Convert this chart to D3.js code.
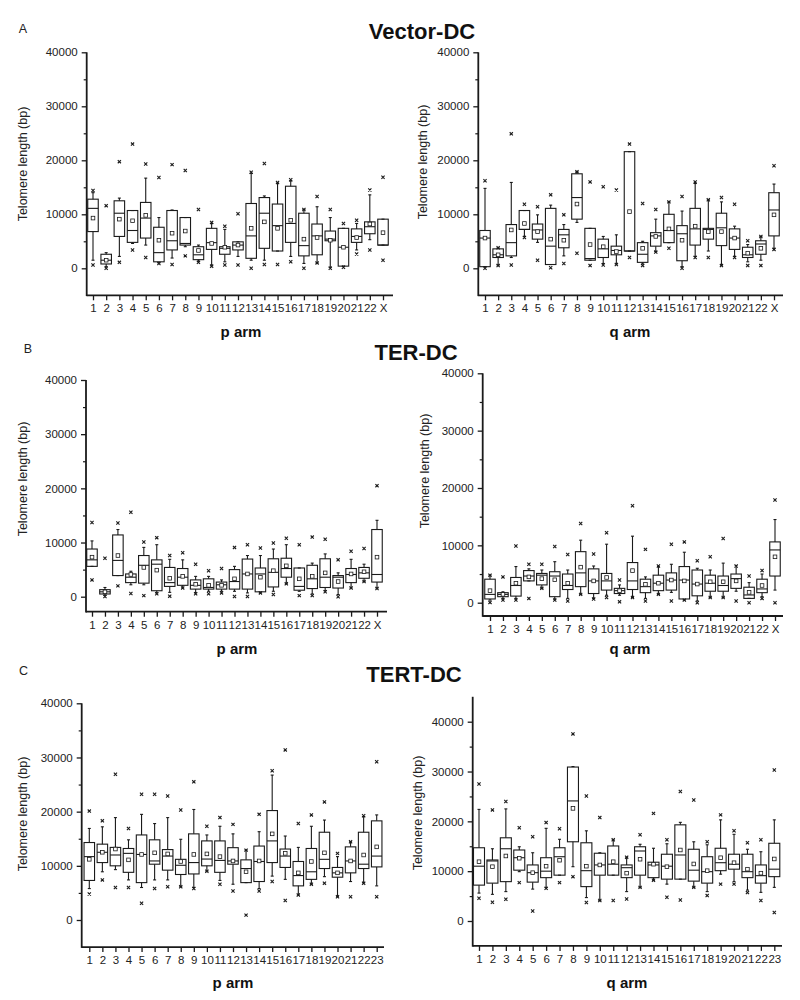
<!DOCTYPE html>
<html><head><meta charset="utf-8">
<script src="https://cdn.jsdelivr.net/npm/d3@7"></script>
<style>
html,body{margin:0;padding:0;background:#fff;}
svg{display:block;font-family:"Liberation Sans",Arial,sans-serif;}
</style></head><body>
<svg id="chart" width="800" height="1000"></svg>
<script>
// categories
const catsXY = ["1","2","3","4","5","6","7","8","9","10","11","12","13","14","15","16","17","18","19","20","21","22","X"];
const cats23 = ["1","2","3","4","5","6","7","8","9","10","11","12","13","14","15","16","17","18","19","20","21","22","23"];
const yMajorTicks = [0, 10000, 20000, 30000, 40000];
const yMinorTicks = [5000, 15000, 25000, 35000];

// rows: [x-low, whisker low, Q1, median, Q3, whisker high, x-high, mean]  (bp)
const vectorP = [
 [600,1500,6800,11100,12800,14000,14400,9300],
 [0,300,800,1500,2600,2900,11600,1500],
 [1100,2200,5900,10200,12500,13000,19750,9100],
 [3400,4600,4800,7000,10700,10700,23000,8800],
 [2000,4300,5600,9300,12200,16700,19300,9800],
 [900,1000,1200,2900,7600,9400,16800,5200],
 [700,1900,3400,5100,10700,10800,19200,6500],
 [2300,4000,4300,4600,9400,9400,18100,6900],
 [1100,1300,1600,2500,4000,4300,10900,3300],
 [400,600,3500,4750,7400,8300,8500,4600],
 [600,1200,2600,3700,4000,7200,7800,3900],
 [600,2200,3400,4300,4900,4900,10100,4300],
 [0,1500,1850,6000,12000,17600,17800,7400],
 [700,1500,3700,10200,13100,13400,19400,8600],
 [700,3200,3200,7900,11900,15800,15900,7400],
 [1200,2200,4800,8300,15200,16200,16400,8900],
 [0,900,2300,4200,10200,10900,10900,5400],
 [1000,1000,2500,6000,8200,11400,13300,5700],
 [0,200,5100,5400,6900,9400,10900,5200],
 [200,400,400,3900,7400,7400,8300,3900],
 [2650,3400,4800,5900,7300,8300,8900,5700],
 [3400,5300,6400,7700,8600,13600,14500,8200],
 [1500,4300,4300,4300,9100,9100,16850,6600]
];
const vectorQ = [
 [0,300,300,5600,7000,14800,16200,5600],
 [500,600,2000,2500,3600,3800,3800,2500],
 [600,2000,2300,4750,8100,15900,24900,7100],
 [5700,5900,7200,7200,10700,10700,11850,8300],
 [1500,4800,5400,7100,8200,9900,11400,6800],
 [100,700,700,4100,11100,11700,13600,5400],
 [900,2300,3800,6200,7200,8100,9900,5200],
 [2800,8500,9100,13100,17500,17900,17900,11900],
 [500,1500,1500,1800,7400,7400,16000,4400],
 [600,900,2000,3600,5400,5900,15100,4000],
 [700,800,2500,3300,4100,6200,14500,3100],
 [2000,3200,3200,3200,21600,21600,23000,10500],
 [500,800,1100,2600,4750,5000,12000,3700],
 [3000,3100,4100,6000,6600,9100,10900,5900],
 [3700,4750,4750,7000,10000,12300,12300,7300],
 [0,300,1400,6400,7900,10600,13300,5200],
 [2000,2200,4300,7300,11100,15700,16000,7800],
 [2000,3200,5400,7200,7400,12700,12700,6800],
 [500,600,4200,7500,10200,12300,13100,6800],
 [2000,2200,3500,5600,7300,7800,11850,5600],
 [500,1200,2000,2500,3900,4400,5100,2800],
 [500,1500,2600,4500,5100,5900,5900,3700],
 [3500,3700,6000,10800,14000,15600,19000,9900]
];
const terP = [
 [3100,5600,5600,6800,8800,10300,13700,7300],
 [50,250,500,900,1300,1700,7100,900],
 [2000,3900,3900,6700,11400,12400,13600,7600],
 [600,2200,2600,3600,4200,4700,15600,4100],
 [200,2200,2500,5800,7600,9100,10100,5400],
 [550,700,1100,6000,6800,9600,10900,4900],
 [100,800,1900,2600,5400,6900,7600,3400],
 [1600,1600,2100,3600,5200,6800,8100,3750],
 [550,700,1400,2100,3100,3750,6000,2300],
 [550,1000,1400,1700,3300,3750,4800,2100],
 [700,1000,1400,2200,2700,3100,5200,2100],
 [50,1000,1400,2800,5000,5600,9100,3300],
 [50,700,1400,4200,6950,7600,9600,4200],
 [700,700,900,4200,5300,7600,9000,3600],
 [400,1000,1800,4500,7000,8800,9900,4800],
 [2400,2400,3600,5200,7100,9600,10800,5700],
 [200,1000,1200,1900,5300,5300,9600,3300],
 [200,500,1500,3300,5800,6200,11000,3750],
 [900,1100,1700,3600,7000,7900,10600,4400],
 [0,400,1600,3600,3900,4400,6800,2800],
 [1600,1600,2600,4100,5200,6900,8400,4200],
 [2800,2800,3400,4400,5400,6000,8900,4600],
 [1500,1600,2700,4100,12400,14100,20500,7300]
];
const terQ = [
 [50,450,650,1450,4100,4800,4800,2100],
 [450,750,1050,1450,1750,1900,4500,1450],
 [450,750,1150,3000,4400,6300,9900,3400],
 [750,3800,3800,4650,5600,5900,6700,4500],
 [2500,2500,3100,4800,5100,5700,6700,4200],
 [450,650,1050,4650,5400,7150,9800,4000],
 [300,750,2300,3000,5000,5700,8400,3400],
 [1450,1450,2800,5200,8900,10900,13800,6200],
 [650,750,1600,3800,5900,6400,8500,3800],
 [900,1300,2200,3800,5100,10200,12200,4400],
 [150,1300,1600,2100,2500,3100,3950,2100],
 [900,900,2300,3800,7000,11600,16900,5600],
 [300,750,1750,2800,4100,4500,9300,3200],
 [1450,1450,2100,3400,4800,6300,6400,3400],
 [300,1800,2200,3950,5200,6700,10200,3950],
 [450,450,650,3950,6300,8800,10600,3800],
 [0,300,1200,3250,5700,6000,7300,3250],
 [900,900,2000,3400,4800,5700,8000,3650],
 [900,900,2000,3000,4650,6900,11200,3650],
 [300,2000,2500,4200,5000,6400,6400,3800],
 [0,750,750,1350,2700,3500,4650,1800],
 [750,1050,1750,2400,4100,5000,5600,3000],
 [0,2200,4650,9200,10600,14500,17900,8000]
];
const tertP = [
 [4800,5800,7300,11700,14300,16900,20100,11200],
 [7400,8900,10600,12500,14000,17200,18300,12500],
 [6000,9300,10000,12000,13400,18900,26900,13100],
 [6000,7400,8800,12300,13200,14800,16900,11100],
 [3100,6000,6900,12100,15700,19500,23200,12100],
 [5800,7400,10300,10900,14800,17800,23200,12400],
 [6150,7400,9200,11800,13000,18900,22900,12200],
 [6150,6150,8400,10100,11200,14900,20300,10800],
 [5800,6000,8500,10600,15900,20400,25500,12100],
 [9000,9000,10000,11250,14600,15700,17300,12200],
 [6600,7300,8800,11000,14600,17300,18900,11700],
 [5350,6600,10300,10900,13350,15900,17650,10900],
 [900,6900,6900,9500,11100,12900,12900,8900],
 [5350,5800,7100,10800,13650,16300,19500,10900],
 [7100,8100,10600,14600,20200,26750,27550,15900],
 [3600,7500,9700,11800,13100,15500,31400,12300],
 [4600,4600,6300,8200,10800,13400,17800,8700],
 [6600,6600,7500,8900,13200,17300,19400,10800],
 [6800,8000,9500,11200,16200,18450,21800,12400],
 [4300,4300,7900,8700,9700,11700,12300,8700],
 [4300,7100,8700,10900,13500,14450,14450,10900],
 [6800,6900,9500,10300,16200,19100,19250,12000],
 [4300,6300,9800,11800,18300,19400,29200,13500]
];
const tertQ = [
 [4550,5600,7200,11000,14700,22400,27500,11900],
 [3750,5350,7600,12050,12250,14500,22300,10900],
 [4350,5900,7900,14500,16700,22500,24000,13050],
 [7700,9900,10200,12700,14250,14900,18700,12600],
 [2000,6400,7800,9700,11250,13700,16900,9700],
 [6550,6750,8700,10000,12700,18600,19750,11000],
 [7700,9200,9200,12900,14700,16400,18500,12200],
 [8900,10900,15900,24100,30900,31000,37550,22600],
 [3700,4700,6900,10100,15700,18100,25100,11000],
 [4100,4100,9200,11250,13600,13700,20750,11250],
 [4100,9200,9200,11400,15060,16300,16300,11900],
 [4400,5900,8700,10700,11250,12800,12800,9600],
 [6750,6750,9200,14050,14900,15400,17300,12400],
 [8200,8200,8700,11250,11800,14600,21600,11400],
 [4750,7400,8400,11000,13400,15500,16300,10900],
 [4200,8400,8400,13250,19300,19800,26000,14250],
 [6750,6750,8000,10200,14400,15900,24300,11450],
 [5100,5900,7600,9900,12900,15300,15900,10100],
 [7400,9400,10100,11700,14600,20300,21300,12700],
 [7400,7900,10400,11400,13400,17400,18100,11700],
 [5700,6200,8700,9900,13400,14400,15700,10400],
 [4100,5750,7600,9100,11250,13900,16300,9600],
 [1700,6750,8900,10400,15600,20300,30300,12450]
];

const groupTitles = ["Vector-DC", "TER-DC", "TERT-DC"];
const groupLetters = ["A", "B", "C"];
const yTitleText = "Telomere length (bp)";

const svg = d3.select("#chart");
const INK = "#1a1a1a";

const panels = [
 {data: vectorP, cats: catsXY, arm: "p arm", ax: 86.7, y0: 268.3, y40: 52.3, ymin: -5000, ytop: 40000, c0: 93, c1: 383, xEnd: 393, yt: [23, 164], xt: [241, 331], bw: 10.5},
 {data: vectorQ, cats: catsXY, arm: "q arm", ax: 478.3, y0: 268.3, y40: 52.3, ymin: -5000, ytop: 40000, c0: 485, c1: 774, xEnd: 783, yt: [423, 162], xt: [630, 331], bw: 10.5},
 {data: terP, cats: catsXY, arm: "p arm", ax: 86, y0: 596.7, y40: 380, ymin: -2770, ytop: 40000, c0: 92, c1: 377, xEnd: 387, yt: [23, 479], xt: [237, 648], bw: 10.5},
 {data: terQ, cats: catsXY, arm: "q arm", ax: 482.7, y0: 602.7, y40: 373.3, ymin: -2320, ytop: 40000, c0: 490, c1: 775, xEnd: 783, yt: [425, 471], xt: [630, 648], bw: 10.5},
 {data: tertP, cats: cats23, arm: "p arm", ax: 81.7, y0: 920, y40: 703.3, ymin: -5000, ytop: 40000, c0: 89.3, c1: 376.7, xEnd: 384, yt: [23, 814], xt: [233, 982], bw: 10.5},
 {data: tertQ, cats: cats23, arm: "q arm", ax: 472.7, y0: 921, y40: 721.7, ymin: -5000, ytop: 45000, c0: 479, c1: 774.3, xEnd: 782, yt: [418, 813], xt: [627, 982], bw: 11}
];

panels.forEach(p => {
  const g = svg.append("g");
  const y = d3.scaleLinear().domain([0, 40000]).range([p.y0, p.y40]);
  const x = d3.scalePoint().domain(p.cats).range([p.c0, p.c1]);
  const yBottom = y(p.ymin);

  const yAx = g.append("g").attr("transform", `translate(${p.ax},0)`)
    .call(d3.axisLeft(y).tickValues(yMajorTicks).tickSize(5).tickPadding(4).tickFormat(d3.format("d")));
  yAx.select(".domain").remove();
  yAx.selectAll("line").attr("stroke", INK).attr("stroke-width", 1.3);
  yAx.selectAll("text").attr("font-size", 11.5).attr("fill", "#222")
     .attr("font-family", '"Liberation Sans",Arial,sans-serif');
  const yMin = g.append("g").attr("transform", `translate(${p.ax},0)`)
    .call(d3.axisLeft(y).tickValues(yMinorTicks).tickSize(3).tickFormat(""));
  yMin.select(".domain").remove();
  yMin.selectAll("line").attr("stroke", INK).attr("stroke-width", 1.2);

  const xAx = g.append("g").attr("transform", `translate(0,${yBottom})`)
    .call(d3.axisBottom(x).tickSize(5).tickPadding(4));
  xAx.select(".domain").remove();
  xAx.selectAll("line").attr("stroke", INK).attr("stroke-width", 1.3);
  xAx.selectAll("text").attr("font-size", 11.5).attr("fill", "#222")
     .attr("font-family", '"Liberation Sans",Arial,sans-serif');

  g.append("line").attr("x1", p.ax).attr("x2", p.ax).attr("y1", y(p.ytop)).attr("y2", yBottom + 0.8)
    .attr("stroke", INK).attr("stroke-width", 1.8);
  g.append("line").attr("x1", p.ax).attr("x2", p.xEnd).attr("y1", yBottom).attr("y2", yBottom)
    .attr("stroke", INK).attr("stroke-width", 1.8);

  g.append("text").attr("transform", `translate(${p.yt[0]},${p.yt[1]}) rotate(-90)`)
    .attr("text-anchor", "middle").attr("dominant-baseline", "central")
    .attr("font-size", 12.5).attr("fill", "#222").text(yTitleText);
  g.append("text").attr("x", p.xt[0]).attr("y", p.xt[1]).attr("text-anchor", "middle")
    .attr("dominant-baseline", "central").attr("font-size", 15).attr("font-weight", "bold")
    .attr("fill", "#111").text(p.arm);

  const rows = p.data.map((r, i) => ({cat: p.cats[i], xlo: r[0], wlo: r[1], q1: r[2], med: r[3], q3: r[4], whi: r[5], xhi: r[6], mean: r[7]}));
  const bx = g.selectAll("g.box").data(rows).join("g").attr("class", "box");
  const hw = p.bw / 2;
  bx.append("line").attr("x1", d => x(d.cat)).attr("x2", d => x(d.cat))
    .attr("y1", d => y(d.q3)).attr("y2", d => y(d.whi)).attr("stroke", INK).attr("stroke-width", 1.1);
  bx.append("line").attr("x1", d => x(d.cat)).attr("x2", d => x(d.cat))
    .attr("y1", d => y(d.q1)).attr("y2", d => y(d.wlo)).attr("stroke", INK).attr("stroke-width", 1.1);
  bx.append("line").attr("x1", d => x(d.cat) - 1.5).attr("x2", d => x(d.cat) + 1.5)
    .attr("y1", d => y(d.whi)).attr("y2", d => y(d.whi)).attr("stroke", INK).attr("stroke-width", 1.1);
  bx.append("line").attr("x1", d => x(d.cat) - 1.5).attr("x2", d => x(d.cat) + 1.5)
    .attr("y1", d => y(d.wlo)).attr("y2", d => y(d.wlo)).attr("stroke", INK).attr("stroke-width", 1.1);
  bx.append("rect").attr("x", d => x(d.cat) - hw).attr("width", p.bw)
    .attr("y", d => y(d.q3)).attr("height", d => Math.max(0.5, y(d.q1) - y(d.q3)))
    .attr("fill", "none").attr("stroke", INK).attr("stroke-width", 1.1);
  bx.append("line").attr("x1", d => x(d.cat) - hw).attr("x2", d => x(d.cat) + hw)
    .attr("y1", d => y(d.med)).attr("y2", d => y(d.med)).attr("stroke", INK).attr("stroke-width", 1.1);
  bx.append("rect").attr("x", d => x(d.cat) - 1.8).attr("y", d => y(d.mean) - 1.8)
    .attr("width", 3.6).attr("height", 3.6).attr("fill", "#fff").attr("stroke", INK).attr("stroke-width", 0.8);
  const cross = (sel, key) => {
    const s = 1.6;
    sel.append("path").attr("d", d => {
      const cx = x(d.cat), cy = y(d[key]);
      return `M${cx - s},${cy - s}L${cx + s},${cy + s}M${cx - s},${cy + s}L${cx + s},${cy - s}`;
    }).attr("stroke", INK).attr("stroke-width", 1.1).attr("fill", "none");
  };
  cross(bx, "xhi");
  cross(bx, "xlo");
});

const titlePos = [[422, 39], [416, 360], [414, 682]];
const letterPos = [[23, 32.5], [28, 352.5], [23.5, 674.5]];
groupTitles.forEach((t, i) => {
  svg.append("text").attr("x", titlePos[i][0]).attr("y", titlePos[i][1]).attr("text-anchor", "middle")
    .attr("font-size", 22).attr("font-weight", "bold").attr("fill", "#111").text(t);
  svg.append("text").attr("x", letterPos[i][0]).attr("y", letterPos[i][1]).attr("text-anchor", "middle")
    .attr("font-size", 12.5).attr("fill", "#222").text(groupLetters[i]);
});
</script>
</body></html>
